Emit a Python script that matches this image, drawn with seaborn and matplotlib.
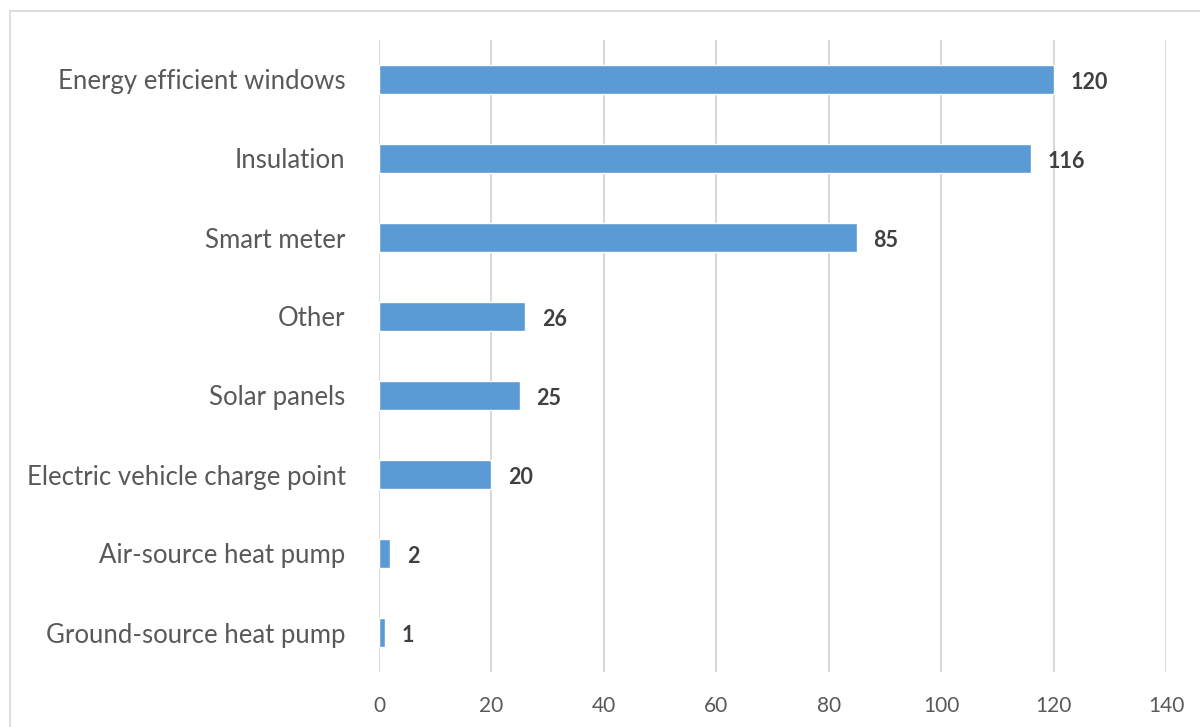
import matplotlib
matplotlib.use("Agg")
import matplotlib.pyplot as plt
import matplotlib.patches as mpatches
import seaborn as sns
import pandas as pd

categories = [
    "Energy efficient windows",
    "Insulation",
    "Smart meter",
    "Other",
    "Solar panels",
    "Electric vehicle charge point",
    "Air-source heat pump",
    "Ground-source heat pump",
]
counts = [120, 116, 85, 26, 25, 20, 2, 1]
x_ticks = [0, 20, 40, 60, 80, 100, 120, 140]

df = pd.DataFrame({"measure": categories, "count": counts})

sns.set_theme(style="white")
plt.rcParams["font.family"] = ["Lato", "DejaVu Sans"]

fig = plt.figure(figsize=(12, 7.27), dpi=100)
ax = fig.add_axes([379 / 1200, 1 - 672 / 727, (1166 - 379) / 1200, (672 - 40) / 727])

sns.barplot(data=df, y="measure", x="count", order=categories, color="#5B9BD5",
            width=0.36, orient="h", ax=ax, saturation=1)

ax.set_xlim(0, 140)
ax.set_ylim(len(categories) - 0.5, -0.5)
ax.set_xticks(x_ticks)
ax.set_xlabel("")
ax.set_ylabel("")
ax.xaxis.grid(True, color="#d9d9d9", linewidth=1.5)
ax.set_axisbelow(True)
for s in ax.spines.values():
    s.set_visible(False)

ax.tick_params(axis="x", length=0, pad=17, labelsize=15, labelcolor="#595959")
ax.tick_params(axis="y", length=0, pad=24, labelsize=18.5, labelcolor="#595959")

for i, v in enumerate(counts):
    ax.annotate(str(v), xy=(v, i), xytext=(12, -2), textcoords="offset points",
                ha="left", va="center", fontsize=15.5, fontweight="bold",
                color="#404040")

fig.patches.append(mpatches.Rectangle((10 / 1200, -0.05), 1.0, 1 - 11 / 727 + 0.05,
                                      transform=fig.transFigure, fill=False,
                                      edgecolor="#d9d9d9", linewidth=1.2))

fig.savefig("out.png", dpi=100, facecolor="white")
